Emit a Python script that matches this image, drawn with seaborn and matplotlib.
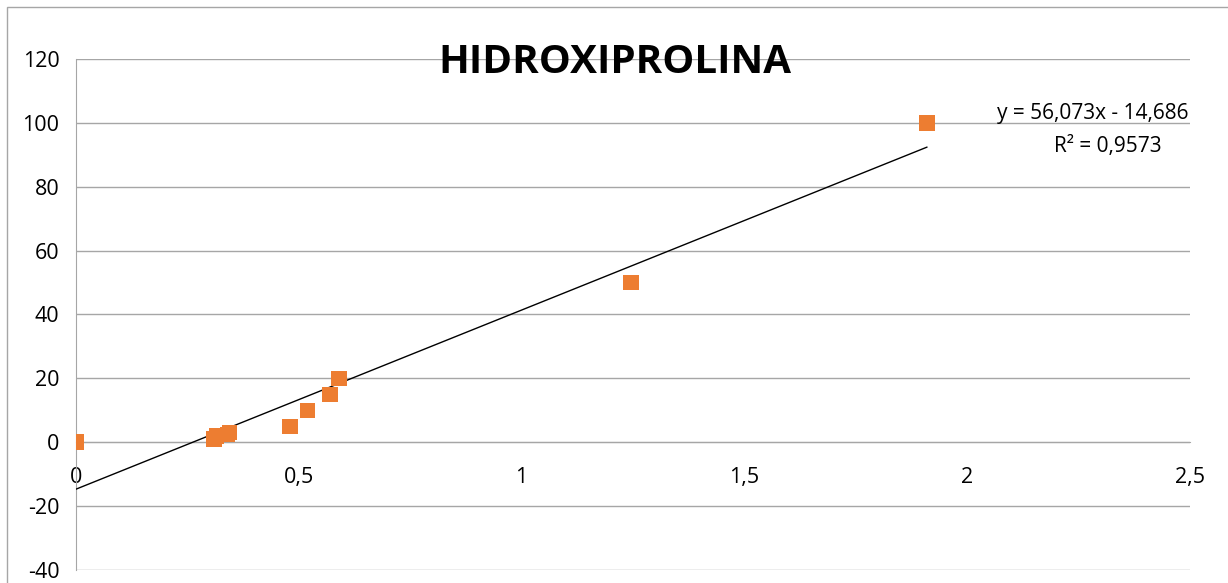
import numpy as np
import pandas as pd
import matplotlib.pyplot as plt
import seaborn as sns
from matplotlib.patches import Rectangle

# data
absorbancia = [0.0, 0.31, 0.315, 0.34, 0.345, 0.48, 0.52, 0.57, 0.59, 1.245, 1.91]
concentracao = [0, 1, 2, 2.5, 3, 5, 10, 15, 20, 50, 100]
slope = 56.073
intercept = -14.686
r2_label = "R² = 0,9573"
eq_label = "y = 56,073x - 14,686"

df = pd.DataFrame({"x": absorbancia, "y": concentracao})

sns.set_style("white")
plt.rcParams['font.family'] = ['Open Sans', 'DejaVu Sans']
plt.rcParams['text.color'] = 'black'

fig = plt.figure(figsize=(12.28, 5.83), dpi=100)
ax = fig.add_axes([0.0619, 0.0223, 0.9071, 0.8765])

# trendline
xl = np.array([0, max(absorbancia)])
ax.plot(xl, slope * xl + intercept, color='black', lw=1.0, zorder=3)

sns.scatterplot(data=df, x="x", y="y", ax=ax, marker='s', s=125,
                color='#ED7D31', edgecolor='none', zorder=4)

ax.set_xlim(0, 2.5)
ax.set_ylim(-40, 120)
ax.set_xticks(np.arange(0, 2.51, 0.5))
ax.set_yticks(np.arange(-40, 121, 20))
ax.set_xticklabels(['0', '0,5', '1', '1,5', '2', '2,5'])
ax.set_yticklabels([str(v) for v in range(-40, 121, 20)])
ax.set_xlabel('')
ax.set_ylabel('')

ax.yaxis.grid(True, color='#a6a6a6', lw=1.0)
ax.set_axisbelow(True)
for s in ['top', 'right']:
    ax.spines[s].set_visible(False)
ax.spines['bottom'].set_position(('data', 0))
ax.spines['bottom'].set_color('#a6a6a6')
ax.spines['left'].set_color('#a6a6a6')
ax.tick_params(axis='both', direction='out', length=8, color='#a6a6a6',
               labelsize=15.5, labelcolor='black')
ax.tick_params(axis='x', pad=10)
ax.tick_params(axis='y', pad=4)

fig.text(0.501, 0.893, 'HIDROXIPROLINA', fontsize=29, fontweight='bold',
         ha='center', va='center', color='black')
ax.text(2.497, 102.8, eq_label, fontsize=15, ha='right', va='center', color='black')
ax.text(2.316, 92.7, r2_label, fontsize=15, ha='center', va='center', color='black')

fig.patches.append(Rectangle((0.0057, -0.01), 1.0, 0.998, transform=fig.transFigure,
                             fill=False, edgecolor='#a6a6a6', lw=1.0))

fig.savefig('out.png', dpi=100)
